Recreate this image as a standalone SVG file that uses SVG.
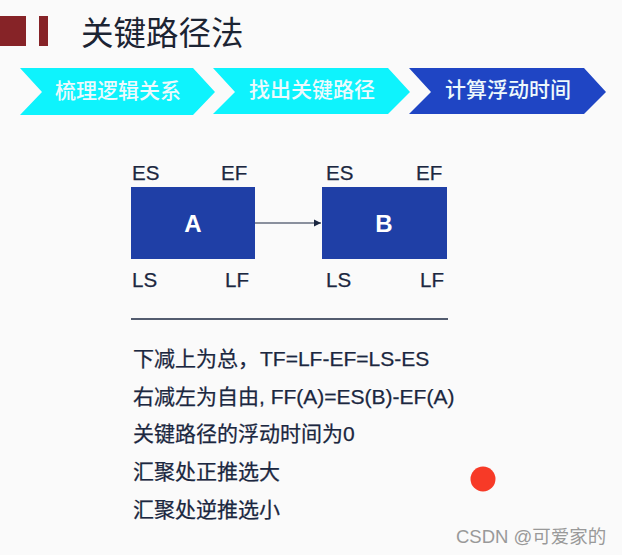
<svg xmlns="http://www.w3.org/2000/svg" width="622" height="555" viewBox="0 0 622 555">
<style>
text{font-family:"Liberation Sans","Noto Sans CJK SC",sans-serif;fill:#1b2740}
.lab{font-size:20.500px;stroke:#1b2740;stroke-width:.25px}
.body{font-size:21px;stroke:#1b2740;stroke-width:.25px}
.lat{font-size:21px}
.chev{font-size:21px;fill:#eef9fc;font-weight:500;text-anchor:middle}
.nd{fill:#1f3fa6}
.ndt{font-size:24px;font-weight:bold;fill:#fff;text-anchor:middle}
</style>
<defs><marker id="arr" markerUnits="userSpaceOnUse" markerWidth="8" markerHeight="8" refX="7" refY="4" orient="auto"><path d="M0 0.500L7 4L0 7.500Z" fill="#1b2740"/></marker></defs>
<rect width="622" height="555" fill="#fafafa"/>
<g id="logo"><rect x="0" y="16" width="26" height="30" fill="#862327"/><rect x="39" y="16" width="9" height="30" fill="#862327"/></g>
<text id="title" x="81" y="45" style="font-size:32.500px;fill:#1c2433">关键路径法</text>
<g id="step1"><polygon points="20,68 193,68 215,92 193,115 20,115 42,92" fill="#0ef3fd"/><text class="chev" x="118" y="98">梳理逻辑关系</text></g>
<g id="step2"><polygon points="213,68 388,68 410,92 388,114 213,114 235,92" fill="#0ef3fd"/><text class="chev" x="312" y="97">找出关键路径</text></g>
<g id="step3"><polygon points="409,68 584,68 606,92 584,114 409,114 431,92" fill="#1f45c4"/><text class="chev" x="508" y="97">计算浮动时间</text></g>
<g id="nodeA"><rect class="nd" x="131" y="187" width="124" height="72"/><text class="ndt" x="193" y="232">A</text>
<text class="lab" x="132" y="180">ES</text><text class="lab" x="221" y="180">EF</text><text class="lab" x="132" y="287">LS</text><text class="lab" x="225" y="287">LF</text></g>
<g id="nodeB"><rect class="nd" x="322" y="187" width="125" height="72"/><text class="ndt" x="384" y="232">B</text>
<text class="lab" x="326" y="180">ES</text><text class="lab" x="416" y="180">EF</text><text class="lab" x="326" y="287">LS</text><text class="lab" x="420" y="287">LF</text></g>
<g id="connectors"><line x1="255" y1="223" x2="321" y2="223" stroke="#1b2740" stroke-width="1.200" marker-end="url(#arr)"/></g>
<line x1="131" y1="319" x2="448" y2="319" stroke="#1b2740" stroke-width="1.500"/>
<text class="body" x="133" y="366">下减上为总，<tspan class="lat" x="260">TF=LF-EF=LS-ES</tspan></text>
<text class="body" x="133" y="404">右减左为自由<tspan class="lat">, FF(A)=ES(B)-EF(A)</tspan></text>
<text class="body" x="133" y="441">关键路径的浮动时间为0</text>
<text class="body" x="133" y="479">汇聚处正推选大</text>
<text class="body" x="133" y="517">汇聚处逆推选小</text>
<circle cx="483" cy="479" r="12.500" fill="#f73a27"/>
<text x="456" y="543" style="font-size:18.500px;fill:#999">CSDN @可爱家的</text>
</svg>
